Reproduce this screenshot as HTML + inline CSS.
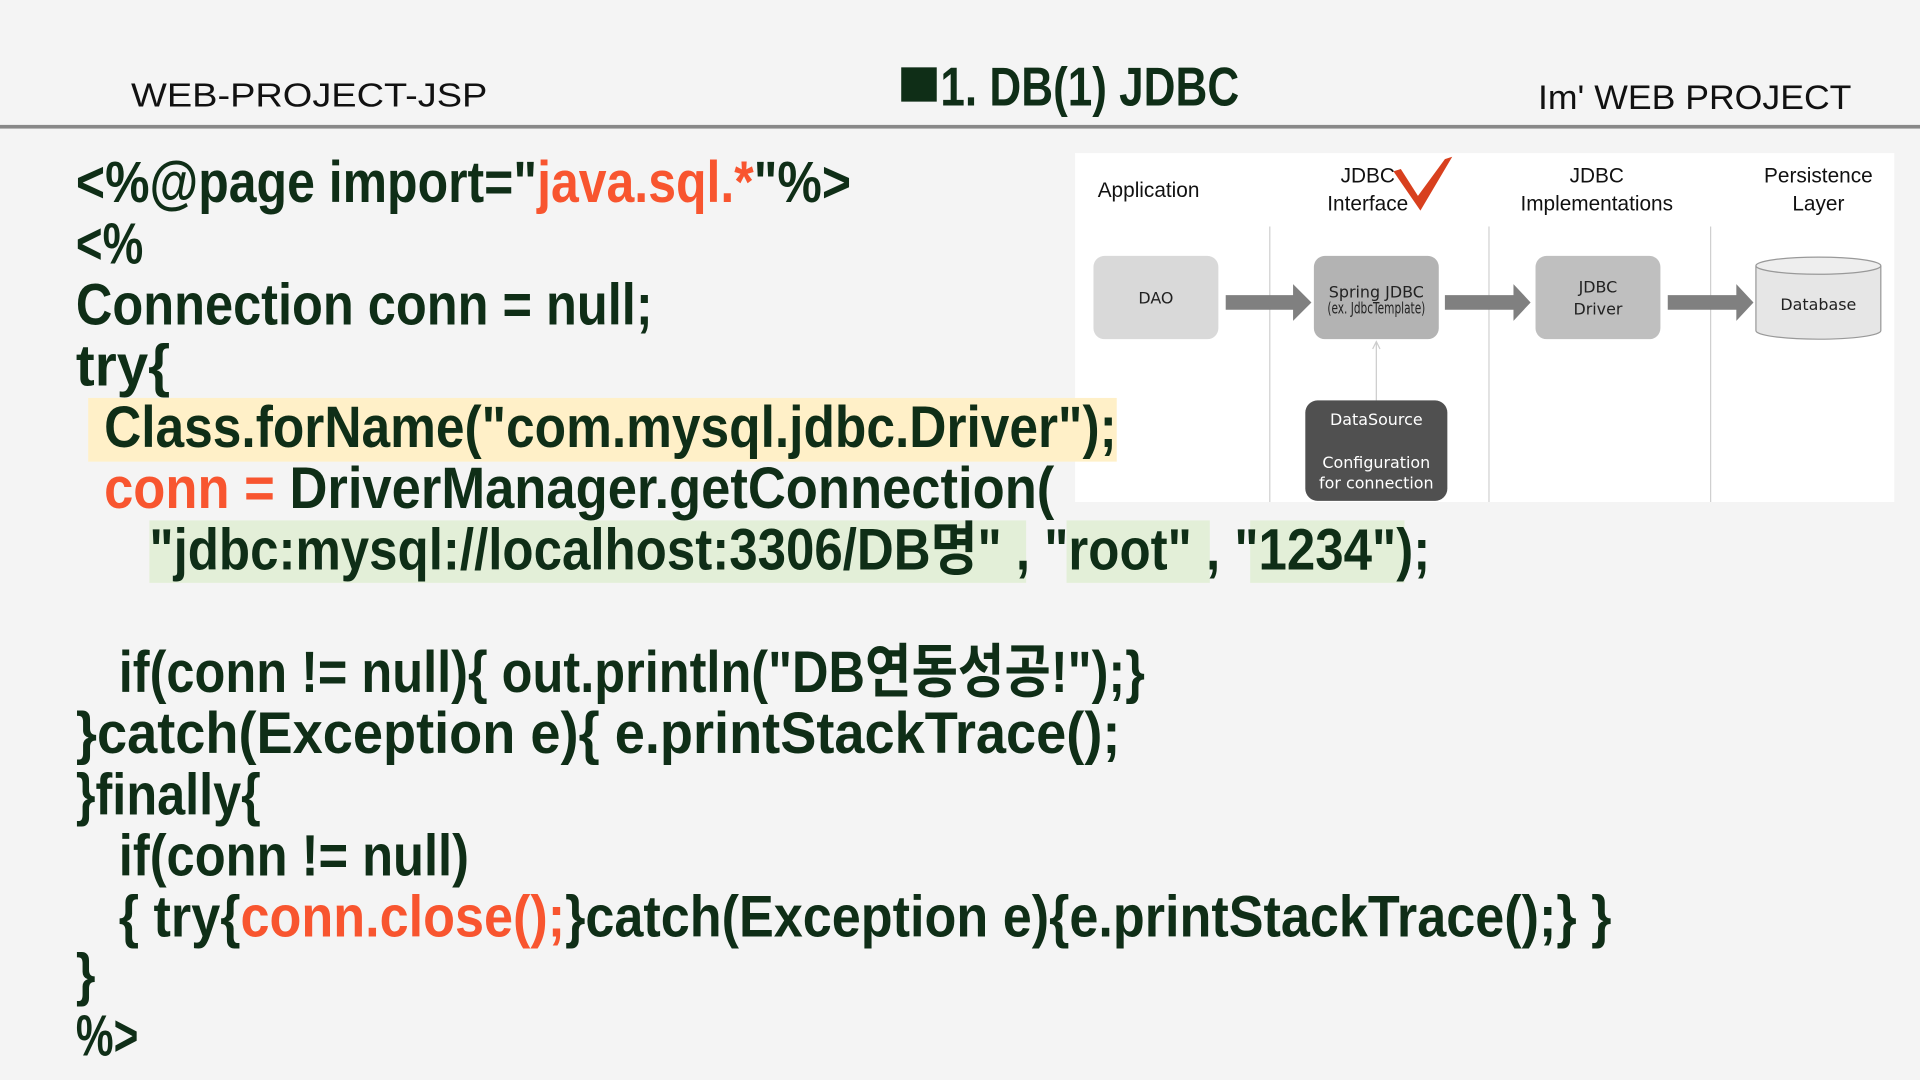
<!DOCTYPE html>
<html><head><meta charset="utf-8"><style>
html,body{margin:0;padding:0;background:#f4f4f4;}
svg{display:block}
.c{font-family:"Liberation Sans","Noto Sans CJK KR",sans-serif;font-weight:bold;font-size:48px;fill:#0f2e17}
.o{fill:#f8552f}
.d{font-family:"Liberation Sans",sans-serif;font-size:17px;fill:#111;text-anchor:middle}
.b{font-family:"DejaVu Sans",sans-serif;font-size:13px;fill:#222;text-anchor:middle}
.w{fill:#fff}
</style></head><body>
<svg width="1920" height="1080" viewBox="0 0 1568 882" xmlns="http://www.w3.org/2000/svg">
<rect width="1568" height="882" fill="#f4f4f4"/>
<!-- header -->
<text x="107" y="87" font-family="Liberation Sans,sans-serif" font-size="27" fill="#111" textLength="291" lengthAdjust="spacingAndGlyphs">WEB-PROJECT-JSP</text>
<rect x="736" y="55" width="29" height="28" fill="#0f2e17"/>
<text x="768" y="86" font-family="Liberation Sans,sans-serif" font-weight="bold" font-size="45" fill="#0f2e17" textLength="244" lengthAdjust="spacingAndGlyphs">1. DB(1) JDBC</text>
<text x="1256" y="89" font-family="Liberation Sans,sans-serif" font-size="28" fill="#111" textLength="256" lengthAdjust="spacingAndGlyphs">Im'  WEB PROJECT</text>
<rect x="0" y="102" width="1568" height="3" fill="#888"/>

<!-- diagram -->
<rect x="878" y="125" width="669" height="285" fill="#fff"/>
<g stroke="#d0d0d0" stroke-width="1">
<line x1="1037" y1="185" x2="1037" y2="410"/>
<line x1="1216" y1="185" x2="1216" y2="410"/>
<line x1="1397" y1="185" x2="1397" y2="410"/>
</g>
<text class="d" x="938" y="161">Application</text>
<text class="d" x="1117" y="149">JDBC</text>
<text class="d" x="1117" y="172">Interface</text>
<text class="d" x="1304" y="149">JDBC</text>
<text class="d" x="1304" y="172">Implementations</text>
<text class="d" x="1485" y="149">Persistence</text>
<text class="d" x="1485" y="172">Layer</text>
<path d="M1138 140 L1160 172 L1186 128 L1180 130 L1158 160 L1144 138 Z" fill="#d8401e"/>

<rect x="893" y="209" width="102" height="68" rx="9" fill="#d9d9d9"/>
<text class="b" x="944" y="248">DAO</text>
<rect x="1073" y="209" width="102" height="68" rx="9" fill="#b3b3b3"/>
<text class="b" x="1124" y="243">Spring JDBC</text>
<text class="b" x="1124" y="256" font-size="8" textLength="80" lengthAdjust="spacingAndGlyphs">(ex. JdbcTemplate)</text>
<rect x="1254" y="209" width="102" height="68" rx="9" fill="#bfbfbf"/>
<text class="b" x="1305" y="239">JDBC</text>
<text class="b" x="1305" y="257">Driver</text>
<path d="M1434 217 L1434 270 A51 7 0 0 0 1536 270 L1536 217" fill="#e6e6e6" stroke="#999"/>
<ellipse cx="1485" cy="217" rx="51" ry="7" fill="#eee" stroke="#999"/>
<text class="b" x="1485" y="253">Database</text>

<g fill="#808080">
<path d="M1001 241 H1056 V232 L1071 247 L1056 262 V253 H1001 Z"/>
<path d="M1180 241 H1236 V232 L1250 247 L1236 262 V253 H1180 Z"/>
<path d="M1362 241 H1418 V232 L1432 247 L1418 262 V253 H1362 Z"/>
</g>
<line x1="1124" y1="280" x2="1124" y2="327" stroke="#ccc"/>
<path d="M1121 285 L1124 279 L1127 285" fill="none" stroke="#ccc"/>
<rect x="1066" y="327" width="116" height="82" rx="10" fill="#505050"/>
<text class="b w" x="1124" y="347">DataSource</text>
<text class="b w" x="1124" y="382">Configuration</text>
<text class="b w" x="1124" y="399">for connection</text>

<!-- highlights -->
<rect x="72" y="325" width="840" height="52" fill="#fff0c8"/>
<rect x="122" y="425" width="716" height="51" fill="#e3efd8"/>
<rect x="871" y="425" width="117" height="51" fill="#e3efd8"/>
<rect x="1021" y="425" width="126" height="51" fill="#e3efd8"/>

<!-- code -->
<text class="c" x="62" y="165" textLength="633" lengthAdjust="spacingAndGlyphs">&lt;%@page import="<tspan class="o">java.sql.*</tspan>"%&gt;</text>
<text class="c" x="62" y="215" textLength="55" lengthAdjust="spacingAndGlyphs">&lt;%</text>
<text class="c" x="62" y="265" textLength="471" lengthAdjust="spacingAndGlyphs">Connection conn = null;</text>
<text class="c" x="62" y="315" textLength="77" lengthAdjust="spacingAndGlyphs">try{</text>
<text class="c" x="85" y="365" textLength="827" lengthAdjust="spacingAndGlyphs">Class.forName("com.mysql.jdbc.Driver");</text>
<text class="c" x="85" y="415" textLength="776" lengthAdjust="spacingAndGlyphs"><tspan class="o">conn =</tspan> DriverManager.getConnection(</text>
<text class="c" x="122" y="465" textLength="1046" lengthAdjust="spacingAndGlyphs">"jdbc:mysql://localhost:3306/DB명" , "root" , "1234");</text>
<text class="c" x="97" y="565" textLength="838" lengthAdjust="spacingAndGlyphs">if(conn != null){ out.println("DB연동성공!");}</text>
<text class="c" x="62" y="615" textLength="853" lengthAdjust="spacingAndGlyphs">}catch(Exception e){   e.printStackTrace();</text>
<text class="c" x="62" y="665" textLength="151" lengthAdjust="spacingAndGlyphs">}finally{</text>
<text class="c" x="97" y="715" textLength="286" lengthAdjust="spacingAndGlyphs">if(conn != null)</text>
<text class="c" x="97" y="765" textLength="1219" lengthAdjust="spacingAndGlyphs">{ try{<tspan class="o">conn.close();</tspan>}catch(Exception e){e.printStackTrace();} }</text>
<text class="c" x="62" y="812" textLength="16" lengthAdjust="spacingAndGlyphs">}</text>
<text class="c" x="62" y="862" textLength="51" lengthAdjust="spacingAndGlyphs">%&gt;</text>
</svg>
</body></html>
